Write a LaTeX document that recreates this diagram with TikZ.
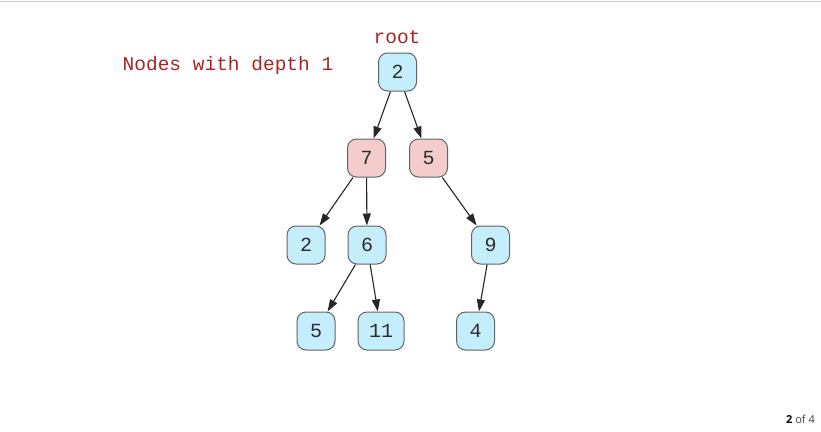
\documentclass[tikz,border=0pt]{standalone}
\usepackage{fontspec}
\setmonofont{Liberation Mono}
\setsansfont{Open Sans}
\usetikzlibrary{arrows.meta}
\definecolor{labelred}{RGB}{168,36,36}
\definecolor{nodeblue}{RGB}{196,238,251}
\definecolor{nodepink}{RGB}{244,204,204}
\definecolor{nodeedge}{RGB}{100,100,100}
\definecolor{numtext}{RGB}{45,45,45}
\tikzset{
  treenode/.style={draw=nodeedge, line width=1pt, rounded corners=9pt,
    minimum width=38pt, minimum height=38pt, inner xsep=11pt,
    font=\fontsize{20}{20}\selectfont\ttfamily, text=numtext},
  bluenode/.style={treenode, fill=nodeblue},
  pinknode/.style={treenode, fill=nodepink},
  caption/.style={font=\fontsize{19.5}{20}\selectfont\ttfamily, text=labelred},
  edge/.style={draw=black!85, line width=1.1pt,
    -{Triangle[length=12pt,width=8pt]}}
}
\begin{document}
\begin{tikzpicture}[x=1pt,y=-1pt]
  \useasboundingbox (0,0) rectangle (821,431);
  % page rule along the top
  \draw[draw=black!22, line width=1.2pt] (0,1.5) -- (821,1.5);

  % labels
  \node[caption] (rootlabel) at (397,37) {root};
  \node[caption] (depthlabel) at (228,65) {Nodes with depth 1};

  % tree
  \node[bluenode] (r)  at (397.5,72)  {2};
  \node[pinknode] (a)  at (366.5,158) {7};
  \node[pinknode] (b)  at (428.5,158) {5};
  \node[bluenode] (c)  at (306,245)   {2};
  \node[bluenode] (d)  at (367,245)   {6};
  \node[bluenode] (e)  at (490.5,245) {9};
  \node[bluenode] (f)  at (316,331)   {5};
  \node[bluenode] (g)  at (381,331)   {11};
  \node[bluenode] (h)  at (475.5,331) {4};

  \draw[edge] (r) -- (a);
  \draw[edge] (r) -- (b);
  \draw[edge] (a) -- (c);
  \draw[edge] (a) -- (d);
  \draw[edge] (b) -- (e);
  \draw[edge] (d) -- (f);
  \draw[edge] (d) -- (g);
  \draw[edge] (e) -- (h);

  % page counter
  \node[anchor=east, font=\fontsize{11}{12}\selectfont\sffamily, text=black!75, inner sep=0pt]
    (pager) at (815,419) {\textbf{\color{black}2} of 4};
\end{tikzpicture}
\end{document}
